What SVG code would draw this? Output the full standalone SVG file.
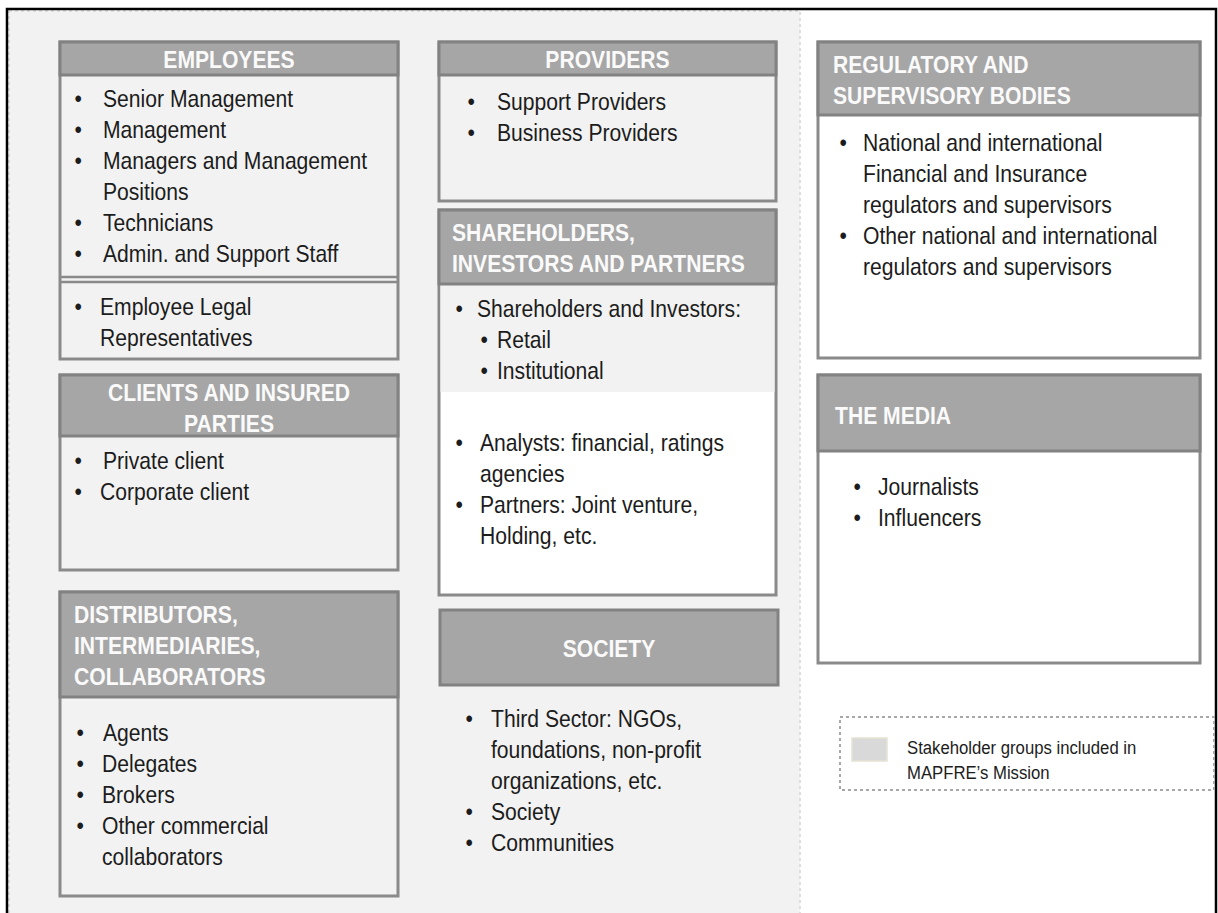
<svg xmlns="http://www.w3.org/2000/svg" width="1218" height="913" viewBox="0 0 1218 913">
<style>
.hd{font-family:"Liberation Sans",Arial,sans-serif;font-weight:bold;font-size:24px;fill:#fafafa}
.tx{font-family:"Liberation Sans",Arial,sans-serif;font-size:24px;fill:#1c1c1c}
.lg{font-family:"Liberation Sans",Arial,sans-serif;font-size:19px;fill:#1c1c1c}
.hdr{fill:#a6a6a6;stroke:#828282;stroke-width:3}
.bg{fill:#f2f2f2;stroke:#8a8a8a;stroke-width:3}
.bw{fill:#ffffff;stroke:#8a8a8a;stroke-width:3}
.sep{stroke:#8a8a8a;stroke-width:2.5}
</style>
<rect x="0" y="0" width="1218" height="913" fill="#ffffff"/>
<g id="background">
<rect x="9" y="11" width="791" height="905" fill="#f2f2f2" stroke="#dedede" stroke-width="2" stroke-dasharray="3 3"/>
<path d="M7,913 V9 H1216 V913" fill="none" stroke="#000" stroke-width="2.5"/>
</g>
<g id="employees">
<rect class="bg" x="60" y="42" width="338" height="317"/>
<line class="sep" x1="60" y1="277" x2="398" y2="277"/>
<line class="sep" x1="60" y1="282" x2="398" y2="282"/>
<rect class="hdr" x="60" y="42" width="338" height="33"/>
<text class="hd" text-anchor="middle" transform="matrix(0.88 0 0 1 229 68)">EMPLOYEES</text>
<text class="tx" transform="matrix(0.88 0 0 1 74.5 0)"><tspan x="0" y="107">•</tspan><tspan x="0" y="138">•</tspan><tspan x="0" y="169">•</tspan><tspan x="0" y="231">•</tspan><tspan x="0" y="262">•</tspan><tspan x="0" y="315">•</tspan></text>
<text class="tx" transform="matrix(0.88 0 0 1 103 0)"><tspan x="0" y="107">Senior Management</tspan><tspan x="0" y="138">Management</tspan><tspan x="0" y="169">Managers and Management</tspan><tspan x="0" y="200">Positions</tspan><tspan x="0" y="231">Technicians</tspan><tspan x="0" y="262">Admin. and Support Staff</tspan></text>
<text class="tx" transform="matrix(0.88 0 0 1 100 0)"><tspan x="0" y="315">Employee Legal</tspan><tspan x="0" y="346">Representatives</tspan></text>
</g>
<g id="clients">
<rect class="bg" x="60" y="375" width="338" height="195"/>
<rect class="hdr" x="60" y="375" width="338" height="61"/>
<text class="hd" text-anchor="middle" transform="matrix(0.88 0 0 1 229 0)"><tspan x="0" y="401">CLIENTS AND INSURED</tspan><tspan x="0" y="432">PARTIES</tspan></text>
<text class="tx" transform="matrix(0.88 0 0 1 74.5 0)"><tspan x="0" y="469">•</tspan><tspan x="0" y="500">•</tspan></text>
<text class="tx" transform="matrix(0.88 0 0 1 103 0)"><tspan x="0" y="469">Private client</tspan></text>
<text class="tx" transform="matrix(0.88 0 0 1 100 0)"><tspan x="0" y="500">Corporate client</tspan></text>
</g>
<g id="distributors">
<rect class="bg" x="60" y="592" width="338" height="304"/>
<rect class="hdr" x="60" y="592" width="338" height="105"/>
<text class="hd" transform="matrix(0.88 0 0 1 74 0)"><tspan x="0" y="623">DISTRIBUTORS,</tspan><tspan x="0" y="654">INTERMEDIARIES,</tspan><tspan x="0" y="685">COLLABORATORS</tspan></text>
<text class="tx" transform="matrix(0.88 0 0 1 76.5 0)"><tspan x="0" y="741">•</tspan><tspan x="0" y="772">•</tspan><tspan x="0" y="803">•</tspan><tspan x="0" y="834">•</tspan></text>
<text class="tx" transform="matrix(0.88 0 0 1 102 0)"><tspan x="1" y="741">Agents</tspan><tspan x="0" y="772">Delegates</tspan><tspan x="0" y="803">Brokers</tspan><tspan x="0" y="834">Other commercial</tspan><tspan x="0" y="865">collaborators</tspan></text>
</g>
<g id="providers">
<rect class="bg" x="439" y="42" width="337" height="159"/>
<rect class="hdr" x="439" y="42" width="337" height="33"/>
<text class="hd" text-anchor="middle" transform="matrix(0.88 0 0 1 607.5 68)">PROVIDERS</text>
<text class="tx" transform="matrix(0.88 0 0 1 467.5 0)"><tspan x="0" y="110">•</tspan><tspan x="0" y="141">•</tspan></text>
<text class="tx" transform="matrix(0.88 0 0 1 497 0)"><tspan x="0" y="110">Support Providers</tspan><tspan x="0" y="141">Business Providers</tspan></text>
</g>
<g id="shareholders">
<rect class="bw" x="439" y="210" width="337" height="385"/>
<rect x="440.5" y="284" width="334" height="108" fill="#f2f2f2"/>
<rect class="hdr" x="439" y="210" width="337" height="74"/>
<text class="hd" transform="matrix(0.88 0 0 1 452 0)"><tspan x="0" y="241">SHAREHOLDERS,</tspan><tspan x="0" y="272">INVESTORS AND PARTNERS</tspan></text>
<text class="tx" transform="matrix(0.88 0 0 1 455.5 0)"><tspan x="0" y="317">•</tspan><tspan x="0" y="451">•</tspan><tspan x="0" y="513">•</tspan></text>
<text class="tx" transform="matrix(0.88 0 0 1 477 0)"><tspan x="0" y="317">Shareholders and Investors:</tspan></text>
<text class="tx" transform="matrix(0.88 0 0 1 480.5 0)"><tspan x="0" y="348">•</tspan><tspan x="0" y="379">•</tspan></text>
<text class="tx" transform="matrix(0.88 0 0 1 497 0)"><tspan x="0" y="348">Retail</tspan><tspan x="0" y="379">Institutional</tspan></text>
<text class="tx" transform="matrix(0.88 0 0 1 480 0)"><tspan x="0" y="451">Analysts: financial, ratings</tspan><tspan x="0" y="482">agencies</tspan><tspan x="0" y="513">Partners: Joint venture,</tspan><tspan x="0" y="544">Holding, etc.</tspan></text>
</g>
<g id="society">
<rect class="hdr" x="440" y="610" width="338" height="75"/>
<text class="hd" text-anchor="middle" transform="matrix(0.88 0 0 1 609 657)">SOCIETY</text>
<text class="tx" transform="matrix(0.88 0 0 1 465.5 0)"><tspan x="0" y="727">•</tspan><tspan x="0" y="820">•</tspan><tspan x="0" y="851">•</tspan></text>
<text class="tx" transform="matrix(0.88 0 0 1 491 0)"><tspan x="0" y="727">Third Sector: NGOs,</tspan><tspan x="0" y="758">foundations, non-profit</tspan><tspan x="0" y="789">organizations, etc.</tspan><tspan x="0" y="820">Society</tspan><tspan x="0" y="851">Communities</tspan></text>
</g>
<g id="regulatory">
<rect class="bw" x="818" y="42" width="382" height="316"/>
<rect class="hdr" x="818" y="42" width="382" height="73"/>
<text class="hd" transform="matrix(0.88 0 0 1 833 0)"><tspan x="0" y="73">REGULATORY AND</tspan><tspan x="0" y="104">SUPERVISORY BODIES</tspan></text>
<text class="tx" transform="matrix(0.88 0 0 1 839.5 0)"><tspan x="0" y="151">•</tspan><tspan x="0" y="244">•</tspan></text>
<text class="tx" transform="matrix(0.88 0 0 1 863 0)"><tspan x="0" y="151">National and international</tspan><tspan x="0" y="182">Financial and Insurance</tspan><tspan x="0" y="213">regulators and supervisors</tspan><tspan x="0" y="244">Other national and international</tspan><tspan x="0" y="275">regulators and supervisors</tspan></text>
</g>
<g id="media">
<rect class="bw" x="818" y="375" width="382" height="288"/>
<rect class="hdr" x="818" y="375" width="382" height="76"/>
<text class="hd" transform="matrix(0.88 0 0 1 835 424)">THE MEDIA</text>
<text class="tx" transform="matrix(0.88 0 0 1 853.5 0)"><tspan x="0" y="495">•</tspan><tspan x="0" y="526">•</tspan></text>
<text class="tx" transform="matrix(0.88 0 0 1 878 0)"><tspan x="0" y="495">Journalists</tspan><tspan x="0" y="526">Influencers</tspan></text>
</g>
<g id="legend">
<rect x="840" y="717" width="374" height="73" fill="#ffffff" stroke="#a8a8a8" stroke-width="2" stroke-dasharray="3 3"/>
<rect x="852" y="738" width="35" height="23" fill="#d9d9d9" stroke="#e6e2d4" stroke-width="1.5"/>
<text class="lg" transform="matrix(0.88 0 0 1 907 0)"><tspan x="0" y="754">Stakeholder groups included in</tspan><tspan x="0" y="779">MAPFRE’s Mission</tspan></text>
</g>
</svg>
